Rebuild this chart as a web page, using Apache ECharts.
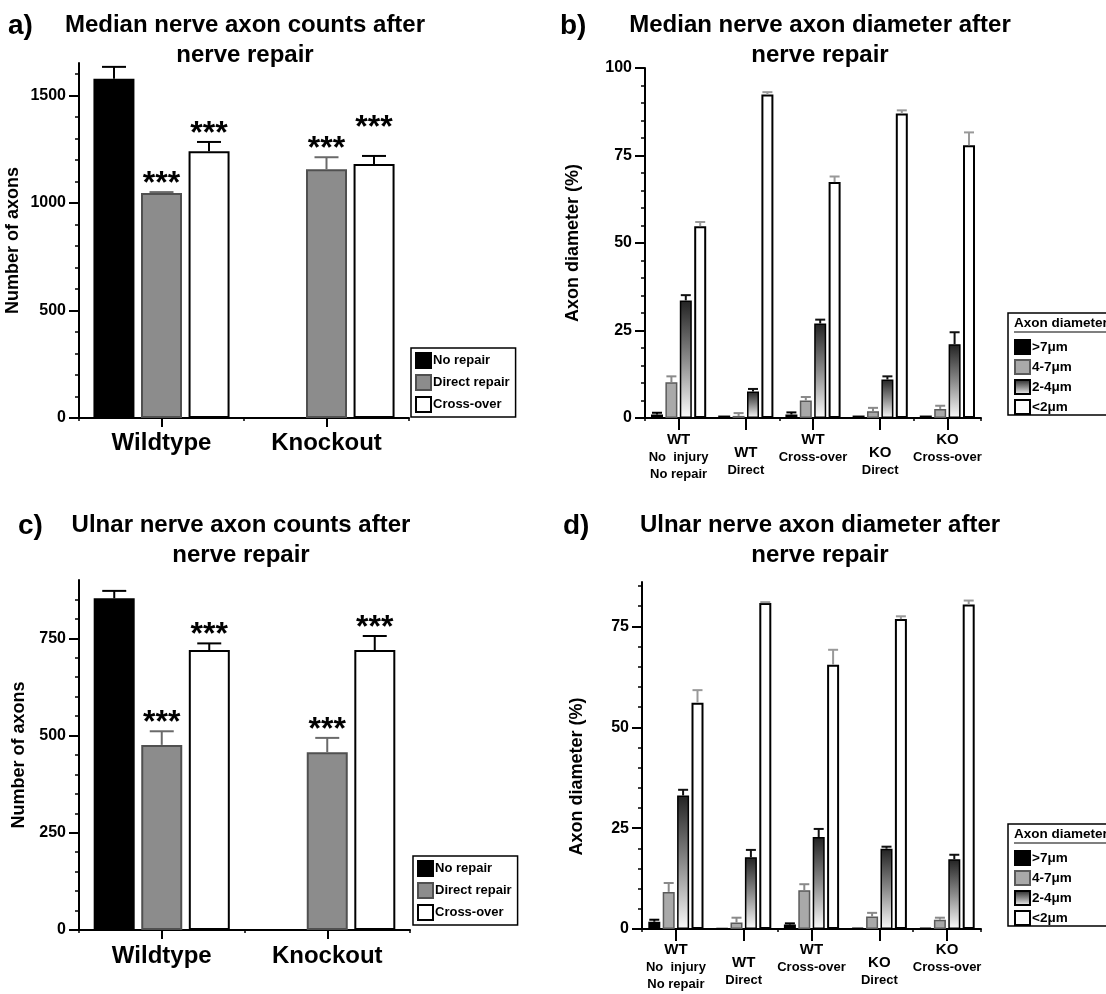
<!DOCTYPE html>
<html><head><meta charset="utf-8">
<script src="https://cdn.jsdelivr.net/npm/echarts@6/dist/echarts.min.js"></script>
<style>html,body{margin:0;padding:0;background:#fff}#c{width:1106px;height:994px}</style>
</head><body><div id="c"></div>
<script>
// ---------------- DATA ----------------
const countCategories = ['Wildtype', 'Knockout'];
const countSeriesNames = ['No repair', 'Direct repair', 'Cross-over'];

// a) Median nerve axon counts
const medianNoRepair = [1577, null];
const medianNoRepairErr = [55, 0];
const medianDirect = [1046, 1156];
const medianDirectErr = [4, 56];
const medianCross = [1240, 1181];
const medianCrossErr = [43, 37];
const medianNoRepairSig = ['', ''];
const medianDirectSig = ['***', '***'];
const medianCrossSig = ['***', '***'];

// c) Ulnar nerve axon counts
const ulnarNoRepair = [853, null];
const ulnarNoRepairErr = [19, 0];
const ulnarDirect = [476, 457];
const ulnarDirectErr = [35, 37];
const ulnarCross = [720, 720];
const ulnarCrossErr = [17, 36];
const ulnarNoRepairSig = ['', ''];
const ulnarDirectSig = ['***', '***'];
const ulnarCrossSig = ['***', '***'];

// b/d) axon diameter distribution
const diameterCategories = ['WT\nNo  injury\nNo repair', 'WT\nDirect', 'WT\nCross-over', 'KO\nDirect', 'KO\nCross-over'];
const diameterSeriesNames = ['>7\u03bcm', '4-7\u03bcm', '2-4\u03bcm', '<2\u03bcm'];

const medianGt7 = [1.0, 0.7, 1.0, 0.7, 0.7];
const medianGt7Err = [0.5, 0, 0.6, 0, 0];
const median4to7 = [10.2, 0.6, 5.0, 1.9, 2.6];
const median4to7Err = [1.7, 0.8, 1.0, 1.0, 0.9];
const median2to4 = [33.6, 7.6, 27.0, 11.0, 21.1];
const median2to4Err = [1.5, 0.7, 1.1, 0.9, 3.4];
const medianLt2 = [54.8, 92.4, 67.4, 87.0, 77.9];
const medianLt2Err = [1.2, 0.7, 1.6, 0.9, 3.7];

const ulnarGt7 = [1.8, 0.1, 1.1, 0.2, 0.2];
const ulnarGt7Err = [0.5, 0, 0.3, 0, 0];
const ulnar4to7 = [9.2, 1.6, 9.6, 3.1, 2.3];
const ulnar4to7Err = [2.2, 1.2, 1.5, 0.9, 0.5];
const ulnar2to4 = [33.1, 17.8, 22.8, 19.9, 17.3];
const ulnar2to4Err = [1.4, 1.8, 2.0, 0.5, 1.1];
const ulnarLt2 = [56.1, 80.8, 65.5, 76.8, 80.4];
const ulnarLt2Err = [3.1, 0.2, 3.7, 0.7, 1.0];

// tick values
const aMajorTicks = [0, 500, 1000, 1500];
const aMinorTicks = [100, 200, 300, 400, 600, 700, 800, 900, 1100, 1200, 1300, 1400, 1600];
const cMajorTicks = [0, 250, 500, 750];
const cMinorTicks = [50, 100, 150, 200, 300, 350, 400, 450, 550, 600, 650, 700, 800, 850];
const bMajorTicks = [0, 25, 50, 75, 100];
const bMinorTicks = [5, 10, 15, 20, 30, 35, 40, 45, 55, 60, 65, 70, 80, 85, 90, 95];
const dMajorTicks = [0, 25, 50, 75];
const dMinorTicks = [5, 10, 15, 20, 30, 35, 40, 45, 55, 60, 65, 70, 80, 85];

// ---------------- STYLE ----------------
const FONT = '"Liberation Sans", Arial, Helvetica, sans-serif';
const styleBlack = { color: '#000', borderColor: '#000', borderWidth: 2 };
const styleGrayCount = { color: '#8c8c8c', borderColor: '#505050', borderWidth: 2 };
const styleWhite = { color: '#fff', borderColor: '#000', borderWidth: 2 };
const styleGrayDiam = { color: '#a9a9a9', borderColor: '#5a5a5a', borderWidth: 1.5 };
const styleGrad = {
  color: { type: 'linear', x: 0, y: 0, x2: 0, y2: 1, colorStops: [{ offset: 0, color: '#222' }, { offset: 0.5, color: '#8a8a8a' }, { offset: 1, color: '#fbfbfb' }] },
  borderColor: '#000', borderWidth: 1.5
};

const chart = echarts.init(document.getElementById('c'), null, { renderer: 'canvas' });

const grids = [
  { left: 79, top: 63, width: 330, height: 355 },   // a
  { left: 645, top: 68, width: 336, height: 350 },  // b
  { left: 79, top: 580, width: 331, height: 350 },  // c
  { left: 642, top: 582, width: 339, height: 347 }  // d
];

function yPair(grid, max, majors, minors, name, nameGap, nameSize, namePad) {
  return [{
    type: 'value', gridIndex: grid, position: 'left', min: 0, max: max,
    axisLine: { show: true, lineStyle: { color: '#000', width: 2 } },
    axisTick: { show: true, customValues: majors, length: 10, lineStyle: { color: '#000', width: 2 } },
    axisLabel: { customValues: majors, formatter: function (v) { return String(v); }, fontFamily: FONT, fontWeight: 'bold', fontSize: 16, color: '#000', margin: 13 },
    splitLine: { show: false },
    name: name, nameLocation: 'middle', nameGap: nameGap,
    nameTextStyle: { fontFamily: FONT, fontWeight: 'bold', fontSize: nameSize, color: '#000', padding: namePad }
  }, {
    type: 'value', gridIndex: grid, position: 'left', min: 0, max: max,
    axisLine: { show: false },
    axisTick: { show: true, customValues: minors, length: 4, lineStyle: { color: '#000', width: 1.5 } },
    axisLabel: { show: false },
    splitLine: { show: false }
  }];
}

function xPairCounts(grid, margin) {
  return [{
    type: 'category', gridIndex: grid, position: 'bottom', data: countCategories,
    axisLine: { show: true, lineStyle: { color: '#000', width: 2 } },
    axisTick: { show: true, alignWithLabel: true, length: 9, lineStyle: { color: '#000', width: 2 } },
    axisLabel: { interval: 0, fontFamily: FONT, fontWeight: 'bold', fontSize: 24, color: '#000', margin: margin }
  }, {
    type: 'category', gridIndex: grid, position: 'bottom', data: countCategories,
    axisLine: { show: false },
    axisTick: { show: true, length: 3, lineStyle: { color: '#000', width: 1.5 } },
    axisLabel: { show: false }
  }];
}

function diamLabel(val, idx) {
  const lines = val.split('\n');
  let s = (idx % 2 ? '{sp| }\n' : '') + '{big|' + lines[0] + '}';
  for (let i = 1; i < lines.length; i++) s += '\n{small|' + lines[i] + '}';
  return s;
}
function xPairDiam(grid, margin) {
  return [{
    type: 'category', gridIndex: grid, position: 'bottom', data: diameterCategories,
    axisLine: { show: true, lineStyle: { color: '#000', width: 2 } },
    axisTick: { show: true, alignWithLabel: true, length: 12, lineStyle: { color: '#000', width: 2 } },
    axisLabel: {
      interval: 0, margin: margin, formatter: diamLabel, verticalAlign: 'top',
      rich: {
        big: { fontFamily: FONT, fontWeight: 'bold', fontSize: 15, lineHeight: 19, color: '#000' },
        small: { fontFamily: FONT, fontWeight: 'bold', fontSize: 13, lineHeight: 17, color: '#000' },
        sp: { fontSize: 2, lineHeight: 13 }
      }
    }
  }, {
    type: 'category', gridIndex: grid, position: 'bottom', data: diameterCategories,
    axisLine: { show: false },
    axisTick: { show: true, length: 3, lineStyle: { color: '#000', width: 1.5 } },
    axisLabel: { show: false }
  }];
}

const xAxes = [].concat(xPairCounts(0, 13), xPairDiam(1, 12), xPairCounts(2, 14), xPairDiam(3, 11));
const yAxes = [].concat(
  yPair(0, 1650, aMajorTicks, aMinorTicks, 'Number of axons', 57, 18, 0),
  yPair(1, 100, bMajorTicks, bMinorTicks, 'Axon diameter (%)', 63, 18, 0),
  yPair(2, 900, cMajorTicks, cMinorTicks, 'Number of axons', 51, 18, 0),
  yPair(3, 86, dMajorTicks, dMinorTicks, 'Axon diameter (%)', 56, 18, [0, 42, 0, 0])
);

const series = [];
function errRender(offset, color, capHalf, lw, sig, lift) {
  return function (params, api) {
    const i = api.value(0), v = api.value(1), e = api.value(2);
    const base = api.coord([i, v]);
    const top = api.coord([i, v + e]);
    const x = base[0] + offset;
    const ch = [];
    if (e > 0) {
      ch.push({ type: 'line', shape: { x1: x, y1: base[1], x2: x, y2: top[1] }, style: { stroke: color, lineWidth: lw } });
      ch.push({ type: 'line', shape: { x1: x - capHalf, y1: top[1], x2: x + capHalf, y2: top[1] }, style: { stroke: color, lineWidth: lw } });
    }
    if (sig && sig[i]) {
      ch.push({ type: 'text', x: x, y: top[1] - 8 - (lift ? lift[i] : 0),
        style: { text: sig[i], fill: '#000', fontFamily: FONT, fontWeight: 'bold', fontSize: 32, align: 'center', verticalAlign: 'middle' } });
    }
    return { type: 'group', children: ch };
  };
}

function addPanel(p) {
  const n = p.bars.length;
  p.bars.forEach(function (b, k) {
    series.push({
      type: 'bar', name: b.name, xAxisIndex: p.x, yAxisIndex: p.y, data: b.data,
      barWidth: p.barWidth, barGap: p.barGap, itemStyle: b.style, z: 2, silent: true
    });
    const offset = (k - (n - 1) / 2) * p.step;
    const d = [];
    b.data.forEach(function (v, i) { if (v !== null) d.push([i, v, b.err[i]]); });
    series.push({
      type: 'custom', name: b.name + ' err', xAxisIndex: p.x, yAxisIndex: p.y, z: 3, silent: true,
      renderItem: errRender(offset, b.errColor, p.cap, 2, b.sig, b.lift), data: d
    });
  });
}

addPanel({ x: 0, y: 0, barWidth: 41, barGap: '16%', step: 47.5, cap: 12, bars: [
  { name: countSeriesNames[0], data: medianNoRepair, err: medianNoRepairErr, style: styleBlack, errColor: '#000', sig: medianNoRepairSig },
  { name: countSeriesNames[1], data: medianDirect, err: medianDirectErr, style: styleGrayCount, errColor: '#6a6a6a', sig: medianDirectSig },
  { name: countSeriesNames[2], data: medianCross, err: medianCrossErr, style: styleWhite, errColor: '#000', sig: medianCrossSig, lift: [0, 20] }
]});
addPanel({ x: 4, y: 4, barWidth: 41, barGap: '16%', step: 47.5, cap: 12, bars: [
  { name: countSeriesNames[0], data: ulnarNoRepair, err: ulnarNoRepairErr, style: styleBlack, errColor: '#000', sig: ulnarNoRepairSig },
  { name: countSeriesNames[1], data: ulnarDirect, err: ulnarDirectErr, style: styleGrayCount, errColor: '#6a6a6a', sig: ulnarDirectSig },
  { name: countSeriesNames[2], data: ulnarCross, err: ulnarCrossErr, style: styleWhite, errColor: '#000', sig: ulnarCrossSig }
]});
addPanel({ x: 2, y: 2, barWidth: 12, barGap: '20%', step: 14.4, cap: 5, bars: [
  { name: diameterSeriesNames[0], data: medianGt7, err: medianGt7Err, style: styleBlack, errColor: '#000' },
  { name: diameterSeriesNames[1], data: median4to7, err: median4to7Err, style: styleGrayDiam, errColor: '#8a8a8a' },
  { name: diameterSeriesNames[2], data: median2to4, err: median2to4Err, style: styleGrad, errColor: '#111' },
  { name: diameterSeriesNames[3], data: medianLt2, err: medianLt2Err, style: styleWhite, errColor: '#999' }
]});
addPanel({ x: 6, y: 6, barWidth: 12, barGap: '20%', step: 14.4, cap: 5, bars: [
  { name: diameterSeriesNames[0], data: ulnarGt7, err: ulnarGt7Err, style: styleBlack, errColor: '#000' },
  { name: diameterSeriesNames[1], data: ulnar4to7, err: ulnar4to7Err, style: styleGrayDiam, errColor: '#8a8a8a' },
  { name: diameterSeriesNames[2], data: ulnar2to4, err: ulnar2to4Err, style: styleGrad, errColor: '#111' },
  { name: diameterSeriesNames[3], data: ulnarLt2, err: ulnarLt2Err, style: styleWhite, errColor: '#999' }
]});

function countLegend(left, top) {
  return {
    orient: 'vertical', left: left, top: top, itemWidth: 15, itemHeight: 15, itemGap: 5,
    padding: [4, 6, 4, 4], borderColor: '#000', borderWidth: 1.5, icon: 'rect', selectedMode: false,
    textStyle: { fontFamily: FONT, fontWeight: 'bold', fontSize: 13, color: '#000', padding: [0, 0, 0, -3] },
    data: countSeriesNames
  };
}
function diamLegend(left, top) {
  return {
    orient: 'vertical', left: left, top: top, itemWidth: 15, itemHeight: 14, itemGap: 4,
    padding: 0, icon: 'rect', selectedMode: false,
    textStyle: { fontFamily: FONT, fontWeight: 'bold', fontSize: 13.5, color: '#000', padding: [0, 0, 0, -3] },
    data: diameterSeriesNames
  };
}

function titleText(x, y, text, size, align) {
  return { type: 'text', x: x, y: y, silent: true,
    style: { text: text, fill: '#000', fontFamily: FONT, fontWeight: 'bold', fontSize: size, lineHeight: 30, align: align, verticalAlign: 'top' } };
}
function legendBox(x, y) {
  return [
    { type: 'rect', shape: { x: x, y: y, width: 140, height: 102 }, style: { fill: 'none', stroke: '#000', lineWidth: 1.5 }, silent: true },
    { type: 'text', x: x + 6, y: y + 10, style: { text: 'Axon diameter', fill: '#000', fontFamily: FONT, fontWeight: 'bold', fontSize: 13.5, align: 'left', verticalAlign: 'middle' }, silent: true },
    { type: 'line', shape: { x1: x + 6, y1: y + 19, x2: x + 110, y2: y + 19 }, style: { stroke: '#000', lineWidth: 1.2 }, silent: true }
  ];
}

const graphics = [
  titleText(8, 11, 'a)', 28, 'left'),
  titleText(245, 10, 'Median nerve axon counts after\nnerve repair', 24, 'center'),
  titleText(560, 11, 'b)', 28, 'left'),
  titleText(820, 10, 'Median nerve axon diameter after\nnerve repair', 24, 'center'),
  titleText(18, 511, 'c)', 28, 'left'),
  titleText(241, 510, 'Ulnar nerve axon counts after\nnerve repair', 24, 'center'),
  titleText(563, 511, 'd)', 28, 'left'),
  titleText(820, 510, 'Ulnar nerve axon diameter after\nnerve repair', 24, 'center')
].concat(legendBox(1008, 313), legendBox(1008, 824));

chart.setOption({
  animation: false,
  backgroundColor: '#fff',
  textStyle: { fontFamily: FONT },
  grid: grids,
  xAxis: xAxes,
  yAxis: yAxes,
  legend: [countLegend(411, 348), diamLegend(1014, 339), countLegend(413, 856), diamLegend(1014, 850)],
  graphic: graphics,
  series: series
});
</script>
</body></html>
